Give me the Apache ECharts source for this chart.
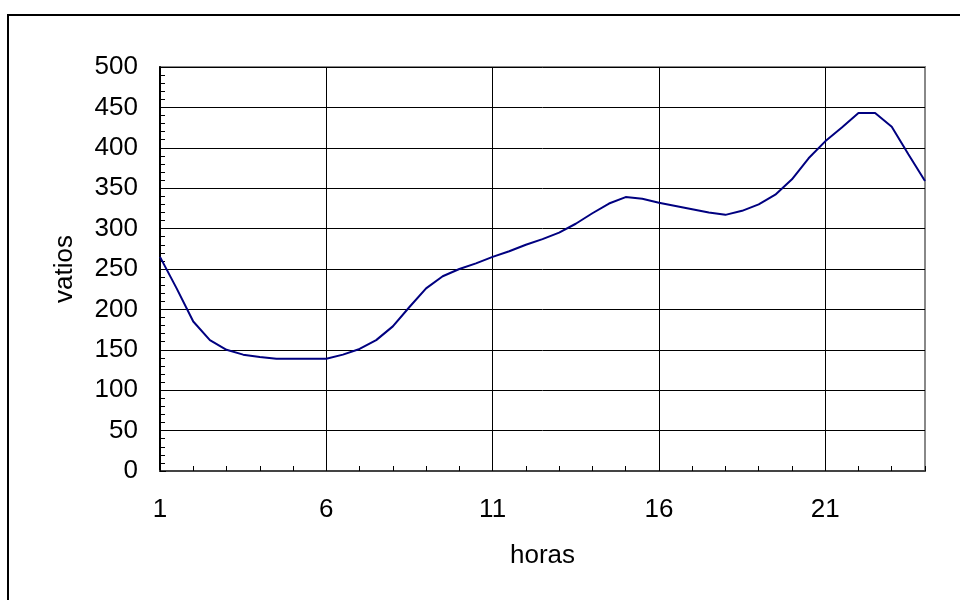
<!DOCTYPE html>
<html>
<head>
<meta charset="utf-8">
<script src="https://cdn.jsdelivr.net/npm/echarts@6/dist/echarts.min.js"></script>
<style>
  html, body { margin: 0; padding: 0; background: #fff; }
  #chart { width: 960px; height: 600px; }
</style>
</head>
<body>
<div id="chart"></div>
<script>
// horas, cada media hora de 1 a 24
var hours = [1, 1.5, 2, 2.5, 3, 3.5, 4, 4.5, 5, 5.5, 6, 6.5, 7, 7.5, 8, 8.5, 9, 9.5, 10, 10.5,
  11, 11.5, 12, 12.5, 13, 13.5, 14, 14.5, 15, 15.5, 16, 16.5, 17, 17.5, 18, 18.5, 19, 19.5,
  20, 20.5, 21, 21.5, 22, 22.5, 23, 23.5, 24]
// potencia en vatios
var watts = [265, 226, 185, 162, 150, 144, 141, 139, 139, 139, 139, 144, 151, 162, 179, 203, 226, 241, 250, 257,
  265, 272, 280, 287, 295, 306, 319, 331, 339, 337, 332, 328, 324, 320, 317, 322, 330, 342,
  361, 387, 408, 425, 443, 443, 426, 392, 359]
var hourLabels = [1, 6, 11, 16, 21]
var yTicks = [0, 50, 100, 150, 200, 250, 300, 350, 400, 450, 500]

var font = 'Liberation Sans, Arial, sans-serif'
var chart = echarts.init(document.getElementById('chart'))

chart.setOption({
  animation: false,
  backgroundColor: '#fff',
  graphic: [
    {
      type: 'rect',
      shape: { x: 8, y: 15, width: 1000, height: 1000 },
      style: { fill: 'none', stroke: '#000', lineWidth: 2 },
      silent: true
    }
  ],
  grid: {
    left: 160,
    right: 35,
    top: 67,
    bottom: 129,
    show: true,
    borderColor: '#888',
    borderWidth: 2
  },
  xAxis: {
    type: 'category',
    data: hours,
    boundaryGap: false,
    name: 'horas',
    nameLocation: 'middle',
    nameGap: 72,
    nameTextStyle: { color: '#000', fontSize: 26, fontFamily: font },
    axisLine: { lineStyle: { color: '#444', width: 2 } },
    axisTick: {
      inside: true,
      length: 5,
      interval: function (i) { return i % 2 === 0 },
      lineStyle: { color: '#000' }
    },
    axisLabel: {
      margin: 26,
      color: '#000',
      fontSize: 26,
      fontFamily: font,
      interval: function (i, v) { return hourLabels.indexOf(Number(v)) >= 0 }
    },
    splitLine: {
      show: true,
      interval: function (i, v) { return hourLabels.indexOf(Number(v)) > 0 },
      lineStyle: { color: '#000', width: 1 }
    }
  },
  yAxis: {
    type: 'value',
    min: yTicks[0],
    max: yTicks[yTicks.length - 1],
    interval: 50,
    name: 'vatios',
    nameLocation: 'middle',
    nameRotate: 90,
    nameGap: 82,
    nameTextStyle: { color: '#000', fontSize: 26, fontFamily: font },
    axisLine: { show: true, lineStyle: { color: '#000', width: 2 } },
    axisTick: { show: true, inside: true, length: 6, lineStyle: { color: '#000' } },
    minorTick: { show: true, splitNumber: 5, length: 5, lineStyle: { color: '#000' } },
    axisLabel: { margin: 22, color: '#000', fontSize: 26, fontFamily: font },
    splitLine: { show: true, lineStyle: { color: '#000', width: 1 } }
  },
  series: [
    {
      type: 'line',
      data: watts,
      symbol: 'none',
      lineStyle: { color: '#000080', width: 2 }
    }
  ]
})
</script>
</body>
</html>
